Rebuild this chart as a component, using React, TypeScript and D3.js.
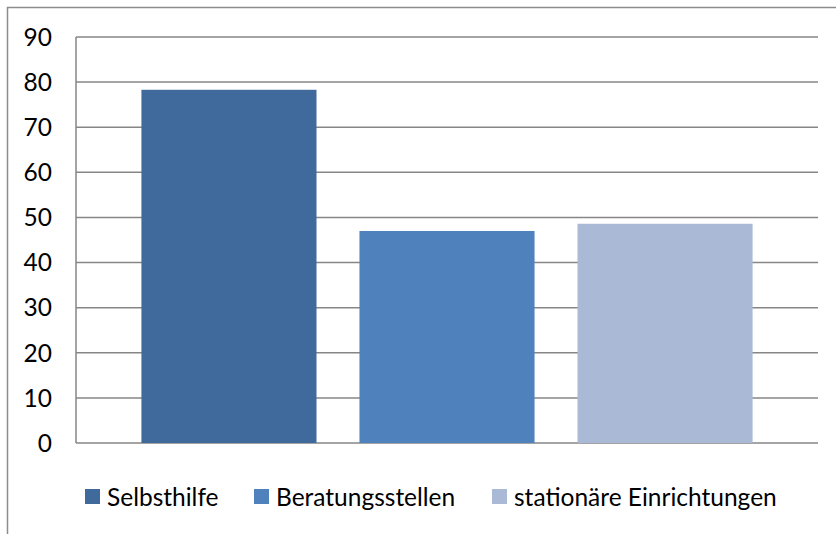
import React, { useRef, useEffect } from "react";
import * as d3 from "d3";

// series (one category, three series)
const seriesNames = ["Selbsthilfe", "Beratungsstellen", "stationäre Einrichtungen"];
const seriesValues = [78.3, 47.0, 48.6];
const seriesColors = ["#416A9C", "#4F81BD", "#AAB9D6"];
const yTicks = [0, 10, 20, 30, 40, 50, 60, 70, 80, 90];

const W = 836;
const H = 534;

const App = () => {
  const svgRef = useRef<SVGSVGElement>(null);

  useEffect(() => {
    const svg = d3.select(svgRef.current);
    svg.selectAll("*").remove();

    const plot = { left: 76, right: 818, top: 37, bottom: 443 };
    const font = "Lato, 'Open Sans', sans-serif";

    const y = d3.scaleLinear().domain([0, 90]).range([plot.bottom, plot.top]);
    const x = d3
      .scaleBand()
      .domain(seriesNames)
      .range([plot.left, plot.right])
      .paddingInner(0.197)
      .paddingOuter(0.3);

    svg.append("rect").attr("width", W).attr("height", H).attr("fill", "#fff");

    // outer chart frame (clipped on the right and bottom)
    svg
      .append("rect")
      .attr("x", 7.5)
      .attr("y", 7.5)
      .attr("width", W + 10)
      .attr("height", H + 10)
      .attr("fill", "none")
      .attr("stroke", "#8c8c8c")
      .attr("stroke-width", 1.5);

    // gridlines
    svg
      .append("g")
      .selectAll("line")
      .data(yTicks)
      .join("line")
      .attr("x1", plot.left)
      .attr("x2", plot.right)
      .attr("y1", (d) => y(d))
      .attr("y2", (d) => y(d))
      .attr("stroke", "#868686")
      .attr("stroke-width", 1.5);

    // bars
    svg
      .append("g")
      .selectAll("rect")
      .data(seriesNames)
      .join("rect")
      .attr("x", (d) => x(d)!)
      .attr("width", x.bandwidth())
      .attr("y", (d, i) => y(seriesValues[i]))
      .attr("height", (d, i) => plot.bottom - y(seriesValues[i]))
      .attr("fill", (d, i) => seriesColors[i]);

    // y axis line
    svg
      .append("line")
      .attr("x1", plot.left)
      .attr("x2", plot.left)
      .attr("y1", plot.top)
      .attr("y2", plot.bottom)
      .attr("stroke", "#868686")
      .attr("stroke-width", 1.5);

    // y tick labels
    svg
      .append("g")
      .selectAll("text")
      .data(yTicks)
      .join("text")
      .attr("x", 52)
      .attr("y", (d) => y(d))
      .attr("dy", "0.36em")
      .attr("text-anchor", "end")
      .attr("font-family", font)
      .attr("font-size", 24.5)
      .attr("fill", "#000")
      .text((d) => d);

    // legend
    const legendX = [85, 254, 492];
    const legend = svg
      .append("g")
      .selectAll("g")
      .data(seriesNames)
      .join("g")
      .attr("transform", (d, i) => `translate(${legendX[i]},489)`);

    legend
      .append("rect")
      .attr("width", 15)
      .attr("height", 15)
      .attr("fill", (d, i) => seriesColors[i]);

    legend
      .append("text")
      .attr("x", 22)
      .attr("y", 17)
      .attr("font-family", font)
      .attr("font-size", 24.5)
      .attr("fill", "#000")
      .text((d) => d);
  }, []);

  return (
    <svg
      ref={svgRef}
      width={W}
      height={H}
      style={{ position: "absolute", left: 0, top: 0 }}
    ></svg>
  );
};

export default App;
